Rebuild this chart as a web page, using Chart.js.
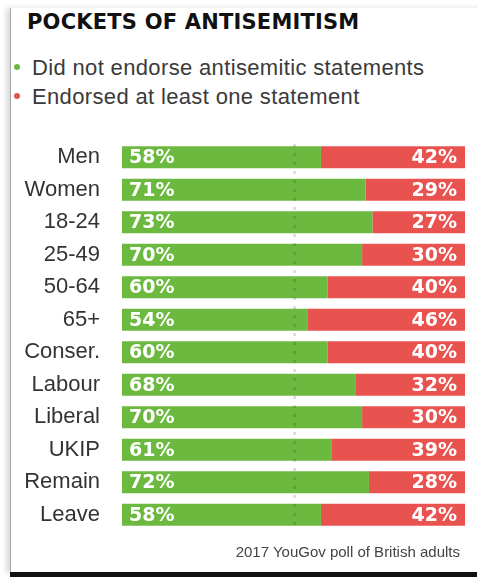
<!DOCTYPE html>
<html>
<head>
<meta charset="utf-8">
<script src="https://cdn.jsdelivr.net/npm/chart.js@4/dist/chart.umd.min.js"></script>
<style>
  html, body { margin: 0; padding: 0; background: #fff; }
  body { width: 477px; height: 577px; position: relative; overflow: hidden; font-family: "Liberation Sans", Arial, sans-serif; }
  #frame { position: absolute; left: 10px; top: 8px; width: 480px; height: 565px; border-left: 1px solid #a8a8a8; box-shadow: -4px 0 5px rgba(0,0,0,0.14); }
  #bottom { position: absolute; left: 10px; top: 572px; width: 467px; height: 5px; background: #111; }
  #title { position: absolute; left: 27px; top: 10px; font-family: "DejaVu Sans", sans-serif; font-weight: bold; font-size: 21px; color: #111; white-space: nowrap; letter-spacing: 0.2px; }
  .leg { position: absolute; left: 14px; font-size: 22px; color: #3a3a3a; white-space: nowrap; letter-spacing: 0.35px; }
  .dot { display: inline-block; width: 6px; height: 6px; border-radius: 50%; margin-right: 12px; vertical-align: middle; position: relative; top: -2px; }
  #foot { position: absolute; right: 17px; top: 543px; font-size: 15px; color: #444; white-space: nowrap; }
  #wrap { position: absolute; left: 0; top: 0; width: 477px; height: 577px; }
</style>
</head>
<body>
<div id="frame"></div>
<div id="bottom"></div>
<div id="title">POCKETS OF ANTISEMITISM</div>
<div class="leg" id="leg1" style="top:55px"><span class="dot" style="background:#6cb93f"></span>Did not endorse antisemitic statements</div>
<div class="leg" id="leg2" style="top:84px"><span class="dot" style="background:#e8534f"></span>Endorsed at least one statement</div>
<div id="wrap"><canvas id="c" width="477" height="577"></canvas></div>
<div id="foot">2017 YouGov poll of British adults</div>
<script>
const categories = ["Men", "Women", "18-24", "25-49", "50-64", "65+", "Conser.", "Labour", "Liberal", "UKIP", "Remain", "Leave"];
const notEndorsed = [58, 71, 73, 70, 60, 54, 60, 68, 70, 61, 72, 58];
const endorsed = [42, 29, 27, 30, 40, 46, 40, 32, 30, 39, 28, 42];
const seriesNames = ["Did not endorse antisemitic statements", "Endorsed at least one statement"];
const GREEN = "#6cb93f", RED = "#e8534f";

const labelPlugin = {
  id: "barLabels",
  afterDatasetsDraw(chart) {
    const ctx = chart.ctx;
    const xs = chart.scales.x;
    const mx = Math.round(xs.getPixelForValue(50)) + 0.5;
    ctx.save();
    ctx.strokeStyle = "rgba(0,0,0,0.13)";
    ctx.lineWidth = 3;
    ctx.setLineDash([3, 6]);
    ctx.beginPath();
    ctx.moveTo(mx, chart.chartArea.top + 3);
    ctx.lineTo(mx, chart.chartArea.bottom - 3);
    ctx.stroke();
    ctx.restore();

    ctx.save();
    ctx.font = "bold 19px 'DejaVu Sans', sans-serif";
    ctx.fillStyle = "#ffffff";
    ctx.textBaseline = "middle";
    chart.data.datasets.forEach((ds, di) => {
      const meta = chart.getDatasetMeta(di);
      meta.data.forEach((bar, i) => {
        const txt = ds.data[i] + "%";
        const p = bar.getProps(["x", "y", "base"], true);
        if (di === 0) {
          ctx.textAlign = "left";
          ctx.fillText(txt, p.base + 7, p.y + 1);
        } else {
          ctx.textAlign = "right";
          ctx.fillText(txt, p.x - 8, p.y + 1);
        }
      });
    });
    ctx.restore();
  }
};

new Chart(document.getElementById("c"), {
  type: "bar",
  data: {
    labels: categories,
    datasets: [
      { label: seriesNames[0], data: notEndorsed, backgroundColor: GREEN, borderWidth: 0, barPercentage: 0.68, categoryPercentage: 1 },
      { label: seriesNames[1], data: endorsed, backgroundColor: RED, borderWidth: 0, barPercentage: 0.68, categoryPercentage: 1 }
    ]
  },
  options: {
    indexAxis: "y",
    responsive: false,
    animation: false,
    devicePixelRatio: 1,
    layout: { padding: { top: 141, bottom: 46, left: 0, right: 12 } },
    plugins: { legend: { display: false }, tooltip: { enabled: false }, title: { display: false } },
    scales: {
      x: { stacked: true, min: 0, max: 100, display: false },
      y: {
        stacked: true,
        grid: { display: false, drawTicks: false },
        border: { display: false },
        ticks: { color: "#333", font: { family: "'Liberation Sans', Arial, sans-serif", size: 22 }, padding: 22 },
        afterFit(scale) { scale.width = 122; }
      }
    }
  },
  plugins: [labelPlugin]
});
</script>
</body>
</html>
